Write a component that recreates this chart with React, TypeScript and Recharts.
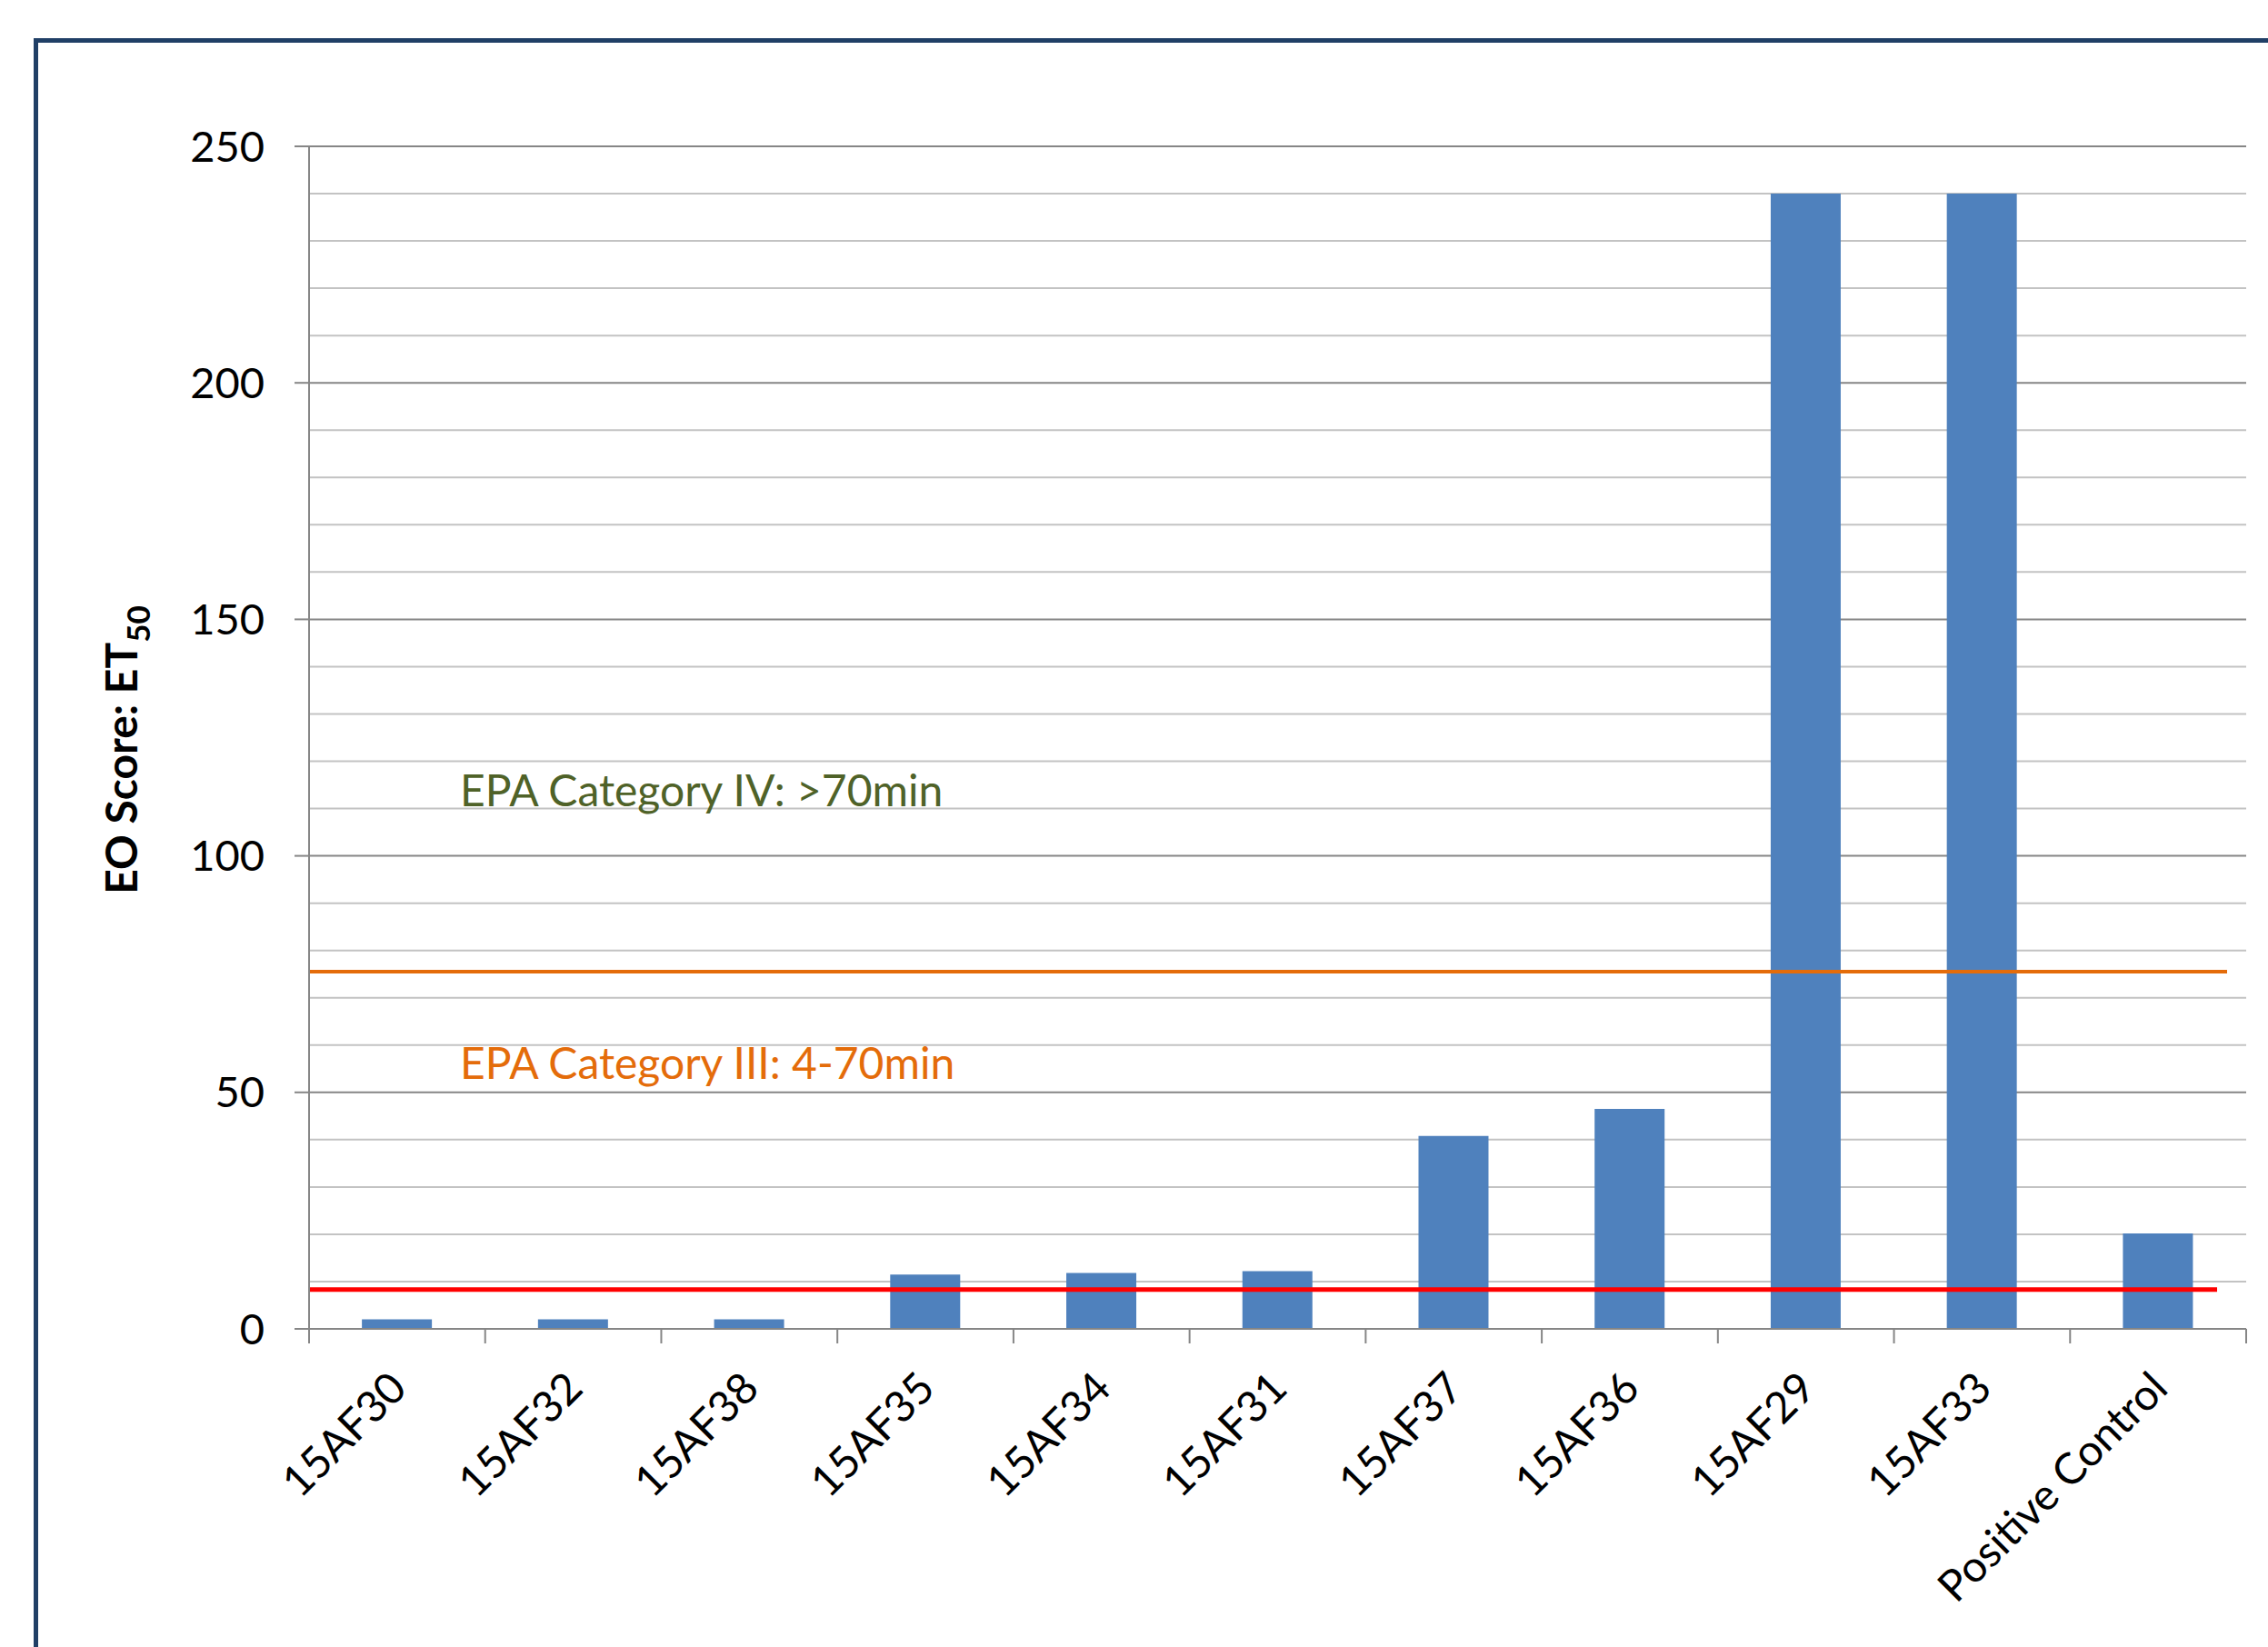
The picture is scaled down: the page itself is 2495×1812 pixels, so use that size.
import { BarChart, Bar, XAxis, YAxis, CartesianGrid, ReferenceLine } from 'recharts'

const categories = [
  '15AF30', '15AF32', '15AF38', '15AF35', '15AF34', '15AF31',
  '15AF37', '15AF36', '15AF29', '15AF33', 'Positive Control',
]
const et50 = [2, 2, 2, 11.5, 11.8, 12.2, 40.8, 46.5, 240, 240, 20.2]

// every 10 gets a grid line, every 50 a label
const yTicks = [
  0, 10, 20, 30, 40, 50, 60, 70, 80, 90, 100, 110, 120,
  130, 140, 150, 160, 170, 180, 190, 200, 210, 220, 230, 240, 250,
]
const MAJOR_STEP = 50

// EPA cut-off lines
const categoryIIIFloor = 8.3
const categoryIVFloor = 75.5

const FONT = 'Lato, "Open Sans", sans-serif'
const AXIS = '#868686'
const MINOR = '#c3c3c3'

const data = categories.map((name, i) => ({ name, et50: et50[i] }))

function CategoryTick(props: any) {
  const { x, y, payload, index } = props
  const half = payload.offset ?? 0
  const last = index === categories.length - 1
  return (
    <g>
      <line x1={x - half} x2={x - half} y1={y} y2={y + 16} stroke={AXIS} strokeWidth={2} />
      {last && <line x1={x + half} x2={x + half} y1={y} y2={y + 16} stroke={AXIS} strokeWidth={2} />}
      <text
        transform={`translate(${x + 13},${y + 68}) rotate(-45)`}
        textAnchor="end"
        fontFamily={FONT}
        fontSize={47.5}
        fill="#000"
      >
        {payload.value}
      </text>
    </g>
  )
}

function ValueTick(props: any) {
  const { x, y, payload } = props
  if (payload.value % MAJOR_STEP !== 0) return <g />
  return (
    <g>
      <line x1={x + 33} x2={x + 49} y1={y} y2={y} stroke={AXIS} strokeWidth={2} />
      <text x={x} y={y} dy="0.355em" textAnchor="end" fontFamily={FONT} fontSize={47} fill="#000">
        {payload.value}
      </text>
    </g>
  )
}

function GridLine(p: any) {
  const major = p.index % 5 === 0
  return (
    <line
      key={p.key} x1={p.x1} x2={p.x2} y1={p.y1} y2={p.y2}
      stroke={major ? AXIS : MINOR} strokeWidth={2}
    />
  )
}

// reference line that stops short of the right edge of the plot
const shortLine = (color: string, width: number, inset: number) => (p: any) => (
  <line x1={p.x1} y1={p.y1} x2={p.x2 - inset} y2={p.y2} stroke={color} strokeWidth={width} />
)

export default function App() {
  return (
    <div style={{ position: 'absolute', left: 0, top: 0, width: 2495, height: 1812, background: '#fff', overflow: 'hidden' }}>
      <div style={{
        position: 'absolute', left: 37, top: 42, width: 2500, height: 1800,
        borderLeft: '5px solid #203f66', borderTop: '5px solid #203f66',
      }} />
      <div style={{ position: 'absolute', left: 0, top: 0 }}>
        <BarChart
          width={2495} height={1812} data={data}
          margin={{ top: 161, right: 24, bottom: 50, left: 200 }}
          barCategoryGap="30%"
        >
          <CartesianGrid vertical={false} horizontal={GridLine} />
          <XAxis
            dataKey="name" interval={0} height={300}
            axisLine={{ stroke: AXIS, strokeWidth: 2 }}
            tickLine={false} tickSize={0} tickMargin={0}
            tick={<CategoryTick />}
          />
          <YAxis
            domain={[0, 250]} ticks={yTicks} interval={0} width={140}
            axisLine={{ stroke: AXIS, strokeWidth: 2 }}
            tickLine={false} tickSize={16} tickMargin={33}
            tick={<ValueTick />}
          />
          <Bar dataKey="et50" fill="#4f81bd" isAnimationActive={false} />
          <ReferenceLine y={categoryIIIFloor} shape={shortLine('#ff0000', 5, 32)} />
          <ReferenceLine y={categoryIVFloor} shape={shortLine('#e46c0a', 4, 21)} />
        </BarChart>
      </div>
      <svg width={2495} height={1812} style={{ position: 'absolute', left: 0, top: 0, pointerEvents: 'none' }}>
        <text x={506} y={887} fontFamily={FONT} fontSize={48} fill="#4f6228">EPA Category IV: &gt;70min</text>
        <text x={506} y={1187} fontFamily={FONT} fontSize={48} fill="#e46c0a">EPA Category III: 4-70min</text>
        <text
          transform="translate(151,825) rotate(-90)" textAnchor="middle"
          fontFamily={FONT} fontSize={48} fontWeight="bold" fill="#000"
        >
          EO Score: ET<tspan fontSize={35} dy={14}>50</tspan>
        </text>
      </svg>
    </div>
  )
}
